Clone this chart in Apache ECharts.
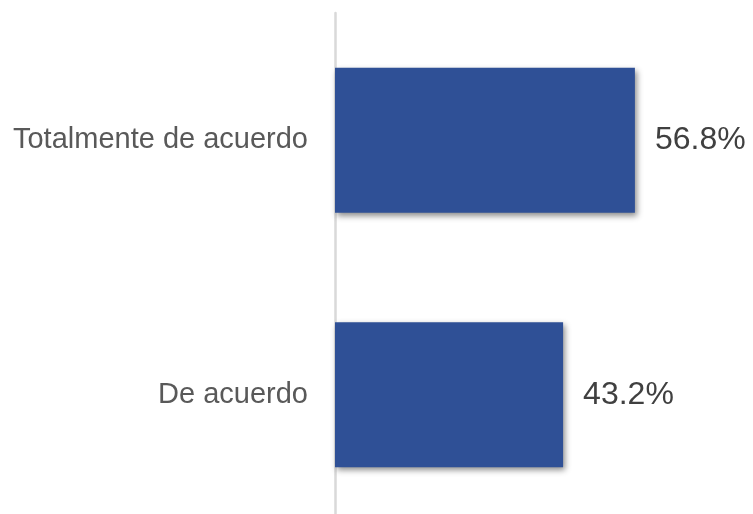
<!DOCTYPE html>
<html>
<head>
<meta charset="utf-8">
<script src="https://cdn.jsdelivr.net/npm/echarts@6/dist/echarts.min.js"></script>
<style>
  html, body { margin: 0; padding: 0; background: #fff; }
  #chart { width: 753px; height: 514px; }
</style>
</head>
<body>
<div id="chart"></div>
<script>
// categories listed bottom to top, as ECharts draws a category y axis
var categories = ['De acuerdo', 'Totalmente de acuerdo']
var values = [43.2, 56.8]

var chart = echarts.init(document.getElementById('chart'))
chart.setOption({
  animation: false,
  grid: {
    left: 335,
    top: 13,
    width: 528,
    height: 509,
    outerBoundsMode: 'none'
  },
  xAxis: {
    type: 'value',
    min: 0,
    max: 100,
    show: false
  },
  yAxis: {
    type: 'category',
    data: categories,
    axisLine: {
      show: true,
      lineStyle: { color: '#d9d9d9', width: 2.5 }
    },
    axisTick: { show: false },
    axisLabel: {
      margin: 27,
      fontSize: 29,
      color: '#595959',
      fontFamily: 'Liberation Sans, Arial, sans-serif'
    }
  },
  series: [{
    type: 'bar',
    data: values,
    barCategoryGap: '43%',
    itemStyle: {
      color: '#2f5096',
      shadowColor: 'rgba(0, 0, 0, 0.45)',
      shadowBlur: 6,
      shadowOffsetX: 2,
      shadowOffsetY: 3
    },
    label: {
      show: true,
      position: 'right',
      distance: 20,
      fontSize: 32,
      color: '#404040',
      fontFamily: 'Liberation Sans, Arial, sans-serif',
      formatter: function (p) { return p.value.toFixed(1) + '%' }
    }
  }]
})
</script>
</body>
</html>
